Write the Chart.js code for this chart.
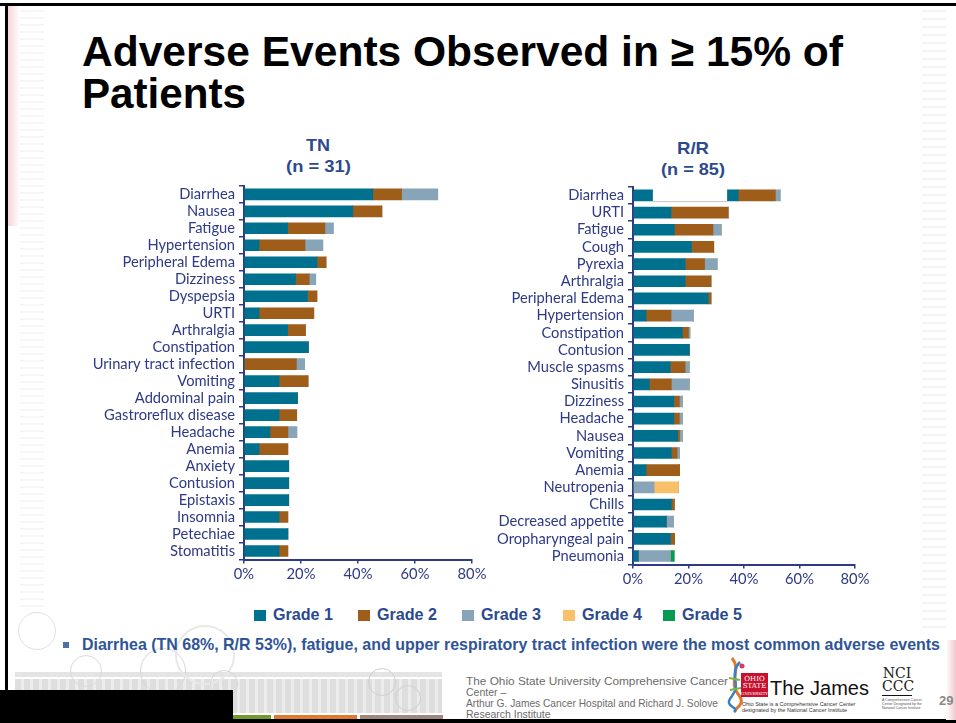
<!DOCTYPE html>
<html>
<head>
<meta charset="utf-8">
<script src="https://cdn.jsdelivr.net/npm/chart.js@4.4.0/dist/chart.umd.min.js"></script>
<style>
  html, body { margin: 0; padding: 0; }
  body { width: 956px; height: 723px; position: relative; overflow: hidden; background: #fff; font-family: "Liberation Sans", Arial, sans-serif; }
  .abs { position: absolute; white-space: nowrap; }
  .fit { display: inline-block; transform-origin: left center; }
  canvas { position: absolute; }
  .title { left: 82px; font-weight: bold; font-size: 43px; line-height: 41px; color: #000; }
  .sub { font-family: "Liberation Sans Narrow", "Liberation Sans", sans-serif; font-weight: bold; font-size: 17px; color: #2c4a8c; line-height: 20px; }
  .leg { font-weight: bold; font-size: 16px; color: #2b4a8e; line-height: 18px; }
  .sq { position: absolute; width: 12px; height: 11px; }
  .note { font-family: "Liberation Sans Narrow", "Liberation Sans", sans-serif; font-weight: bold; font-size: 17px; color: #2f5597; line-height: 20px; }
  .foot { font-family: "Liberation Sans Narrow", "Liberation Sans", sans-serif; font-size: 10.5px; color: #6b6b6b; line-height: 11px; }
</style>
</head>
<body>

<!-- slide frame and background decoration -->
<div class="abs" style="left:0;top:3px;width:956px;height:3px;background:#000"></div>
<div class="abs" style="left:5px;top:3px;width:3px;height:720px;background:#000"></div>
<div class="abs" style="left:0;top:719px;width:956px;height:4px;background:#000"></div>
<div class="abs" style="left:8px;top:6px;width:12px;height:220px;background:linear-gradient(to right,#f3c2ca,#fff);opacity:.7"></div>
<div class="abs" style="left:20px;top:10px;width:24px;height:600px;background:repeating-linear-gradient(180deg,#ececec 0 2px,transparent 2px 7px);opacity:.45"></div>
<div class="abs" style="left:922px;top:10px;width:24px;height:620px;background:repeating-linear-gradient(180deg,#e6e9ee 0 2px,transparent 2px 8px);opacity:.5"></div>
<div class="abs" style="left:946px;top:640px;width:10px;height:80px;background:linear-gradient(to right,#fff,#f2c6cc)"></div>

<div class="abs" style="left:15px;top:672px;width:427px;height:5px;background:#e4e4e4"></div>
<div class="abs" style="left:15px;top:679px;width:427px;height:34px;background:repeating-linear-gradient(90deg,#dedede 0 6px,#ececec 6px 9px)"></div>
<div class="abs" style="left:233px;top:715px;width:38px;height:4px;background:#6f9a2e"></div>
<div class="abs" style="left:274px;top:715px;width:83px;height:4px;background:#e07a2c"></div>
<div class="abs" style="left:360px;top:715px;width:83px;height:4px;background:#a08a80"></div>
<div class="abs" style="left:18px;top:612px;width:36px;height:36px;border:1px solid #e2e2e2;border-radius:50%"></div>
<div class="abs" style="left:70px;top:655px;width:30px;height:30px;border:1px solid #dcdcdc;border-radius:50%"></div>
<div class="abs" style="left:140px;top:648px;width:44px;height:44px;border:1px solid #d8d8d8;border-radius:50%"></div>
<div class="abs" style="left:175px;top:625px;width:56px;height:56px;border:2px solid #e8e8e8;border-radius:50%"></div>
<div class="abs" style="left:210px;top:670px;width:26px;height:26px;border:1px solid #d6d6d6;border-radius:50%"></div>
<div class="abs" style="left:368px;top:668px;width:26px;height:26px;border:1px solid #d0d0d0;border-radius:50%"></div>
<div class="abs" style="left:395px;top:685px;width:24px;height:24px;border:1px solid #d0d0d0;border-radius:50%"></div>
<div class="abs" style="left:0;top:690px;width:233px;height:33px;background:#000"></div>

<!-- heading -->
<div class="abs title" style="top:31px"><span class="fit" data-fit="761">Adverse Events Observed in ≥ 15% of</span></div>
<div class="abs title" style="top:73px"><span class="fit" data-fit="164">Patients</span></div>

<div class="abs sub" style="left:306px;top:136px"><span class="fit" data-fit="24">TN</span></div>
<div class="abs sub" style="left:286px;top:157px"><span class="fit" data-fit="65">(n = 31)</span></div>
<div class="abs sub" style="left:677px;top:139px"><span class="fit" data-fit="32">R/R</span></div>
<div class="abs sub" style="left:661px;top:160px"><span class="fit" data-fit="64">(n = 85)</span></div>

<canvas id="tn" width="430" height="417" style="left:60px;top:173px"></canvas>
<canvas id="rr" width="400" height="416" style="left:480px;top:174px"></canvas>
<div class="abs" style="left:653px;top:185px;width:74px;height:16px;background:#fff;box-shadow:0 1px 1px #ccc"></div>

<div id="legend"></div>

<div class="abs" style="left:63px;top:642px;width:6px;height:6px;background:#4f6fa8"></div>
<div class="abs note" style="left:82px;top:635px"><span class="fit" data-fit="858">Diarrhea (TN 68%, R/R 53%), fatigue, and upper respiratory tract infection were the most common adverse events</span></div>

<!-- footer -->
<div class="abs foot" style="left:466px;top:676px"><span class="fit" data-fit="262">The Ohio State University Comprehensive Cancer</span></div>
<div class="abs foot" style="left:466px;top:687px">Center –</div>
<div class="abs foot" style="left:466px;top:698px"><span class="fit" data-fit="252">Arthur G. James Cancer Hospital and Richard J. Solove</span></div>
<div class="abs foot" style="left:466px;top:709px">Research Institute</div>

<svg class="abs" style="left:726px;top:656px" width="20" height="58" viewBox="0 0 20 58">
  <path d="M6 2 C16 14, 2 26, 12 38 S 6 52, 10 56" stroke="#e0782a" stroke-width="3" fill="none"/>
  <path d="M14 6 C2 18, 16 28, 6 40 S 14 50, 8 56" stroke="#3b7fc4" stroke-width="2.5" fill="none"/>
  <circle cx="16" cy="10" r="2.5" fill="#d23a6a"/>
  <path d="M3 22 L14 24 M4 34 L15 32" stroke="#7cb342" stroke-width="2"/>
</svg>
<div class="abs" style="left:741px;top:673px;width:27px;height:24px;background:#c8102e;color:#fff;font-family:'DejaVu Serif',serif;font-size:7px;line-height:7px;text-align:center;padding-top:3px;box-sizing:border-box">OHIO<br>STATE<br><span style="font-size:4px">UNIVERSITY</span></div>
<div class="abs" style="left:770px;top:677px;font-family:'Liberation Sans',sans-serif;font-size:20px;color:#111">The James</div>
<div class="abs" style="left:742px;top:701px;font-family:'Liberation Sans Narrow',sans-serif;font-size:5.5px;line-height:6px;color:#333">Ohio State is a Comprehensive Cancer Center<br>designated by the National Cancer Institute</div>
<div class="abs" style="left:882px;top:667px;font-family:'DejaVu Serif',serif;font-size:14px;line-height:13px;color:#222;text-align:center;width:30px">NCI<br>CCC</div>
<div class="abs" style="left:882px;top:695px;width:30px;height:1px;background:#111"></div>
<div class="abs" style="left:882px;top:698px;font-size:3.5px;line-height:4px;color:#555;width:30px">A Comprehensive Cancer<br>Center Designated by the<br>National Cancer Institute</div>
<div class="abs" style="left:939px;top:693px;font-weight:bold;font-size:13px;color:#8a8a8a">29</div>

<script>
// grade colours and names used by both panels
const gradeNames = ['Grade 1', 'Grade 2', 'Grade 3', 'Grade 4', 'Grade 5'];
const gradeColors = ['#00708f', '#9f5d1a', '#87a4b9', '#f8c068', '#079b52'];
const tickLabels = ['0%', '20%', '40%', '60%', '80%'];

// treatment-naive patients (n = 31), % of patients
const tnCategories = ['Diarrhea', 'Nausea', 'Fatigue', 'Hypertension', 'Peripheral Edema', 'Dizziness',
  'Dyspepsia', 'URTI', 'Arthralgia', 'Constipation', 'Urinary tract infection', 'Vomiting',
  'Addominal pain', 'Gastroreflux disease', 'Headache', 'Anemia', 'Anxiety', 'Contusion',
  'Epistaxis', 'Insomnia', 'Petechiae', 'Stomatitis'];
const tnGrade1 = [45.2, 38.2, 15.3, 5.3, 25.6, 18.1, 22.3, 5.3, 15.3, 22.6, 0, 12.3, 18.8, 12.3, 9.1, 5.3, 15.7, 15.7, 15.7, 12.3, 15.4, 12.3];
const tnGrade2 = [10.1, 10.2, 13.1, 16.1, 3.2, 4.8, 3.3, 19.2, 6.3, 0, 18.4, 10.2, 0, 6.2, 6.3, 10.1, 0, 0, 0, 3.1, 0, 3.1];
const tnGrade3 = [12.7, 0, 3.0, 6.3, 0, 2.3, 0, 0, 0, 0, 2.9, 0, 0, 0, 3.2, 0, 0, 0, 0, 0, 0, 0];

// relapsed/refractory patients (n = 85), % of patients
const rrCategories = ['Diarrhea', 'URTI', 'Fatigue', 'Cough', 'Pyrexia', 'Arthralgia', 'Peripheral Edema',
  'Hypertension', 'Constipation', 'Contusion', 'Muscle spasms', 'Sinusitis', 'Dizziness', 'Headache',
  'Nausea', 'Vomiting', 'Anemia', 'Neutropenia', 'Chills', 'Decreased appetite', 'Oropharyngeal pain', 'Pneumonia'];
const rrGrade1 = [37.9, 13.7, 14.9, 21.1, 18.8, 18.8, 27.1, 4.7, 17.8, 20.3, 13.4, 5.9, 14.7, 14.7, 16.1, 13.8, 4.7, 0, 13.8, 12.0, 13.5, 1.9];
const rrGrade2 = [13.4, 20.6, 13.9, 8.0, 7.0, 9.3, 1.0, 9.0, 2.2, 0, 5.4, 7.9, 2.0, 2.0, 0.7, 2.1, 12.1, 0, 1.1, 0, 1.5, 0];
const rrGrade3 = [1.7, 0, 3.0, 0, 4.5, 0, 0, 8.1, 0.5, 0, 1.5, 6.5, 1.1, 1.1, 1.0, 0.9, 0, 7.6, 0, 2.6, 0, 11.5];
const rrGrade4 = [0, 0, 0, 0, 0, 0, 0, 0, 0, 0, 0, 0, 0, 0, 0, 0, 0, 8.8, 0, 0, 0, 0];
const rrGrade5 = [0, 0, 0, 0, 0, 0, 0, 0, 0, 0, 0, 0, 0, 0, 0, 0, 0, 0, 0, 0, 0, 1.5];

const navy = '#2e3a86';
const labelFont = { family: 'Lato, "Liberation Sans", sans-serif', size: 14.7 };

function makeChart(id, categories, grades, axisWidth, axisHeight, padTop, padRight) {
  const ctx = document.getElementById(id).getContext('2d');
  return new Chart(ctx, {
    type: 'bar',
    data: {
      labels: categories,
      datasets: grades.map((values, i) => ({
        label: gradeNames[i],
        data: values,
        backgroundColor: gradeColors[i],
        borderWidth: 0,
        barThickness: 11
      }))
    },
    options: {
      indexAxis: 'y',
      responsive: false,
      animation: false,
      layout: { padding: { top: padTop, right: padRight, left: 0, bottom: 0 } },
      plugins: { legend: { display: false }, tooltip: { enabled: false } },
      scales: {
        x: {
          stacked: true,
          min: 0,
          max: 80,
          ticks: { stepSize: 20, color: navy, font: labelFont, padding: 2,
            callback: (v) => tickLabels[v / 20] },
          grid: { drawOnChartArea: false, color: navy, tickLength: 4, lineWidth: 1.5 },
          border: { color: navy, width: 2 },
          afterFit: (scale) => { scale.height = axisHeight; }
        },
        y: {
          stacked: true,
          ticks: { color: navy, font: labelFont, padding: 4, autoSkip: false },
          grid: { drawOnChartArea: false, color: navy, tickLength: 5, lineWidth: 1.5, offset: true },
          border: { color: navy, width: 2 },
          afterFit: (scale) => { scale.width = axisWidth; }
        }
      }
    }
  });
}

makeChart('tn', tnCategories, [tnGrade1, tnGrade2, tnGrade3], 184, 30.5, 5.5, 18);
makeChart('rr', rrCategories, [rrGrade1, rrGrade2, rrGrade3, rrGrade4, rrGrade5], 153, 25.4, 6.4, 25);

// legend row under both panels
const legendX = [254, 358, 462, 563, 663];
const legend = document.getElementById('legend');
gradeNames.forEach((name, i) => {
  const sq = document.createElement('div');
  sq.className = 'sq';
  sq.style.left = legendX[i] + 'px';
  sq.style.top = '610px';
  sq.style.background = gradeColors[i];
  legend.appendChild(sq);
  const txt = document.createElement('div');
  txt.className = 'abs leg';
  txt.style.left = (legendX[i] + 19) + 'px';
  txt.style.top = '606px';
  txt.innerHTML = '<span class="fit" data-fit="60">' + name + '</span>';
  legend.appendChild(txt);
});

// squeeze text runs to their set widths
document.querySelectorAll('.fit').forEach((el) => {
  const w = el.getBoundingClientRect().width;
  el.style.transform = 'scaleX(' + (el.dataset.fit / w) + ')';
});
</script>
</body>
</html>
